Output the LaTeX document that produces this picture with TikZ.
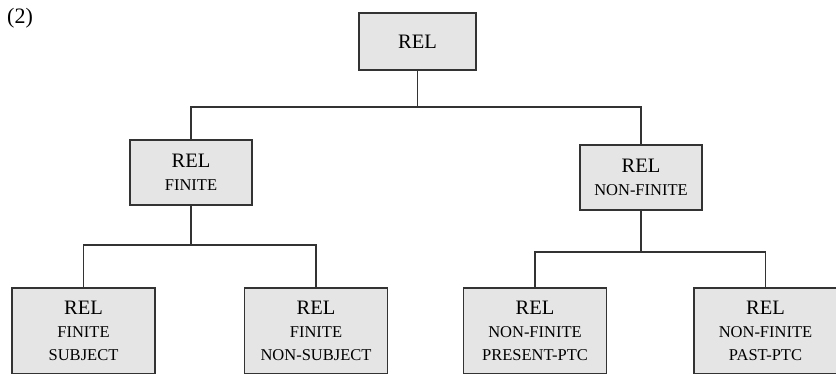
\documentclass[tikz,border=0pt]{standalone}
\usepackage{fontspec}
\setmainfont{Liberation Serif}
\usetikzlibrary{positioning}
\tikzset{
    link/.style   = {line width=1.5pt, draw=black!80},
    relbox/.style = {rectangle, draw=black!80, line width=1.5pt, fill=gray!20,
                     align=center, inner sep=0pt, font=\fontsize{16.5}{23}\selectfont},
    topbox/.style  = {relbox, minimum width=117pt, minimum height=57pt},
    midbox/.style  = {relbox, minimum width=122pt, minimum height=65pt},
    leafbox/.style = {relbox, minimum width=143pt, minimum height=86pt}
}
\newcommand{\bigrel}{{\fontsize{20.5}{23}\selectfont REL}}

\begin{document}
\begin{tikzpicture}[x=1pt, y=-1pt]
    \useasboundingbox (0,0) rectangle (836,373);
    \clip (0,0) rectangle (836,373);

    % Example number
    \node[anchor=north west, inner sep=0pt, font=\fontsize{22}{26}\selectfont] (num) at (7,8) {(2)};

    % Top Block
    \node[topbox] (rel) at (417.5, 41.5) {\bigrel};

    % Middle Blocks
    \node[midbox] (fin)    at (191, 172.5) {\bigrel\\FINITE};
    \node[midbox] (nonfin) at (641, 177.5) {\bigrel\\NON-FINITE};

    % Bottom Blocks (cut off at the lower edge)
    \node[leafbox] (subj)    at (83.5, 331)  {\bigrel\\FINITE\\SUBJECT};
    \node[leafbox] (nonsubj) at (316, 331)   {\bigrel\\FINITE\\NON-SUBJECT};
    \node[leafbox] (pres)    at (535, 331)   {\bigrel\\NON-FINITE\\PRESENT-PTC};
    \node[leafbox] (past)    at (765.5, 331) {\bigrel\\NON-FINITE\\PAST-PTC};

    % Bus lines
    \coordinate (bus1) at (0,107);
    \coordinate (bus2) at (0,245);
    \coordinate (bus3) at (0,252);

    % Connectors
    \draw[link] (rel.south) -- (rel.south |- bus1) -| (fin.north);
    \draw[link] (rel.south |- bus1) -| (nonfin.north);

    \draw[link] (fin.south) -- (fin.south |- bus2) -| (subj.north);
    \draw[link] (fin.south |- bus2) -| (nonsubj.north);

    \draw[link] (nonfin.south) -- (nonfin.south |- bus3) -| (pres.north);
    \draw[link] (nonfin.south |- bus3) -| (past.north);

\end{tikzpicture}
\end{document}
